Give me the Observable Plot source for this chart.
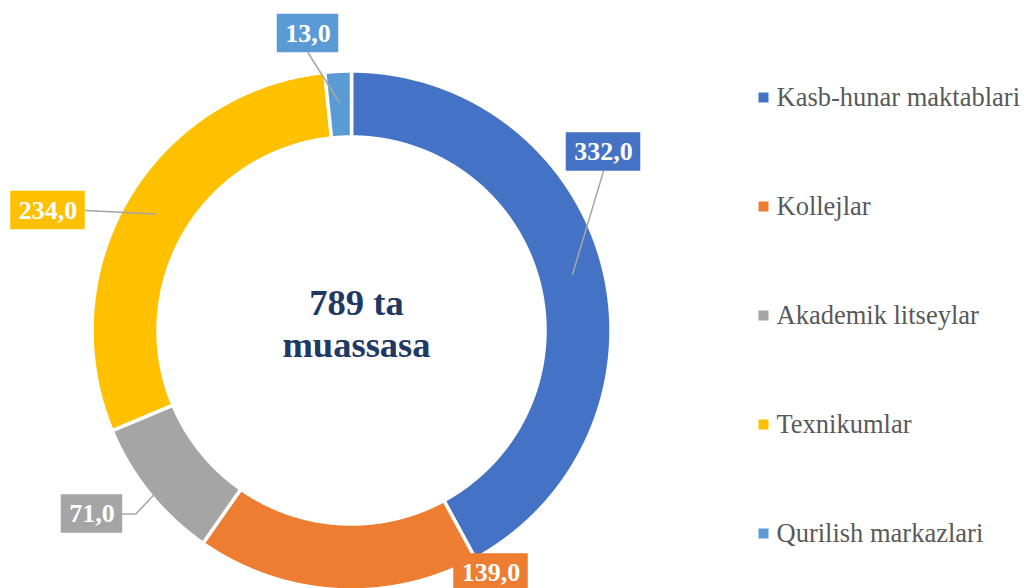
<!DOCTYPE html>
<html><head><meta charset="utf-8">
<script src="https://cdn.jsdelivr.net/npm/d3@7"></script>
<script src="https://cdn.jsdelivr.net/npm/@observablehq/plot@0.6"></script>
<style>body{margin:0;background:#fff;overflow:hidden} svg text{font-family:"Liberation Serif","Times New Roman",serif !important}</style>
</head><body><div id="chart"></div>
<script>
// ---- data ----
const categories = ["Kasb-hunar maktablari", "Kollejlar", "Akademik litseylar", "Texnikumlar", "Qurilish markazlari"];
const values = [332, 139, 71, 234, 13];
const colors = ["#4472C4", "#ED7D31", "#A5A5A5", "#FFC000", "#5B9BD5"];
const centerLines = ["789 ta", "muassasa"];
const valueLabels = values.map(v => v.toFixed(1).replace(".", ","));

// ---- layout (pixels) ----
const W = 1024, H = 588, CX = 351, CY = 330, R = 258, RIN = 195;
const FONT = "'Liberation Serif', 'Times New Roman', serif";
const toX = px => (px - CX) / R, toY = py => (CY - py) / R;
// label box centers and leader side
const labelLayout = [
  {cx: 603, cy: 151.5, side: "bottom"},
  {cx: 490.5, cy: 572.5, side: null},
  {cx: 91.5, cy: 513.5, side: "right", elbow: 13},
  {cx: 47.5, cy: 210, side: "right"},
  {cx: 307.5, cy: 33, side: "bottom"}
];
const legendX = 763, legendTextX = 776, legendY0 = 97, legendStep = 109;

// ---- geometry ----
const pie = d3.pie().sort(null).startAngle(0).endAngle(2 * Math.PI)(values);
const ringPts = [];
const outerF = (R + 1.5) / R, innerF = (RIN - 1.5) / R;
pie.forEach((p, i) => {
  const n = Math.max(4, Math.ceil((p.endAngle - p.startAngle) / 0.004));
  for (let k = 0; k <= n; k++) {
    const a = p.startAngle + (p.endAngle - p.startAngle) * k / n;
    ringPts.push({name: categories[i], x: Math.sin(a) * outerF, y: Math.cos(a) * outerF});
  }
  for (let k = n; k >= 0; k--) {
    const a = p.startAngle + (p.endAngle - p.startAngle) * k / n;
    ringPts.push({name: categories[i], x: Math.sin(a) * innerF, y: Math.cos(a) * innerF});
  }
});

const ctx = document.createElement("canvas").getContext("2d");
ctx.font = "bold 26px 'Liberation Serif'";
const labels = pie.map((p, i) => {
  const L = labelLayout[i];
  const tw = ctx.measureText(valueLabels[i]).width;
  const hw = (tw + 16) / 2, hh = 19.25;
  return {name: categories[i], text: valueLabels[i],
    x: toX(L.cx), y: toY(L.cy),
    x1: toX(L.cx - hw), x2: toX(L.cx + hw), y1: toY(L.cy - hh), y2: toY(L.cy + hh), hw, hh, L, p};
});
const leaders = [];
labels.forEach(d => {
  const L = d.L;
  if (!L.side) return;
  const mid = (d.p.startAngle + d.p.endAngle) / 2;
  let sx, sy;
  if (L.side === "bottom") { sx = L.cx; sy = L.cy + d.hh; }
  else { sx = L.cx + d.hw; sy = L.cy; }
  leaders.push({name: d.name, x: toX(sx), y: toY(sy)});
  if (L.elbow) leaders.push({name: d.name, x: toX(sx + L.elbow), y: toY(sy)});
  leaders.push({name: d.name, x: Math.sin(mid) * 0.884, y: Math.cos(mid) * 0.884});
});

const legend = categories.map((c, i) => ({name: c, x: toX(legendX), tx: toX(legendTextX), y: toY(legendY0 + i * legendStep)}));

const chart = Plot.plot({
  width: W, height: H, margin: 0,
  x: {domain: [toX(0), toX(W)], axis: null},
  y: {domain: [toY(H), toY(0)], axis: null},
  color: {domain: categories, range: colors},
  style: {background: "#fff", fontFamily: FONT},
  marks: [
    Plot.line(ringPts, {x: "x", y: "y", z: "name", fill: "name", stroke: "white", strokeWidth: 3.5, curve: "linear-closed"}),
    Plot.line(leaders, {x: "x", y: "y", z: "name", stroke: "#A6A6A6", strokeWidth: 1.5}),
    Plot.rect(labels, {x1: "x1", x2: "x2", y1: "y1", y2: "y2", fill: "name"}),
    Plot.text(labels, {x: "x", y: "y", text: "text", fill: "white", fontSize: 26, fontWeight: "bold", fontFamily: FONT}),
    Plot.text([centerLines.join("\n")], {x: toX(356), y: toY(322.3), text: d => d, lineHeight: 1.15, fontSize: 36.5, fontWeight: "bold", fill: "#1F3864", fontFamily: FONT}),
    Plot.dot(legend, {x: "x", y: "y", fill: "name", symbol: "square", r: 5.64}),
    Plot.text(legend, {x: "tx", y: "y", text: "name", textAnchor: "start", fill: "#595959", fontSize: 26.5, fontFamily: FONT})
  ]
});
document.getElementById("chart").appendChild(chart);
</script>
</body></html>
